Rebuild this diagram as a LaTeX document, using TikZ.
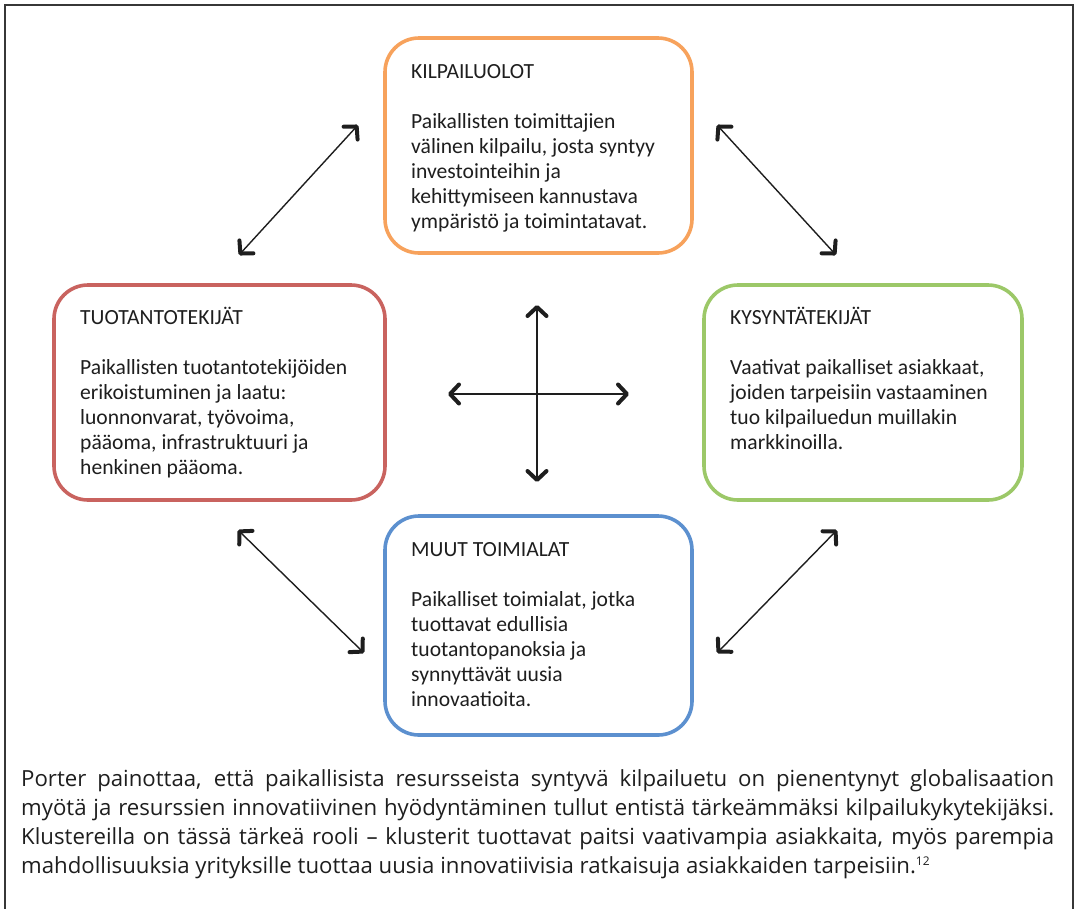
\documentclass[tikz,border=0pt]{standalone}
\usepackage{fontspec}
\setmainfont{Carlito}
\newfontfamily\parafont{Open Sans}
\usetikzlibrary{arrows.meta}
\definecolor{boxorange}{RGB}{247,162,92}
\definecolor{boxred}{RGB}{201,99,95}
\definecolor{boxgreen}{RGB}{156,200,104}
\definecolor{boxblue}{RGB}{92,144,207}
\definecolor{textdark}{RGB}{30,30,30}
\definecolor{framegray}{RGB}{55,55,55}
\tikzset{
  pbox/.style={draw, line width=3.6pt, rounded corners=34pt},
  ptext/.style={anchor=base west, inner sep=0pt, text=textdark, font=\fontsize{21.6}{25}\selectfont},
  barb/.tip={Straight Barb[length=9pt, width=19pt, line width=4pt, round]},
  dbl/.style={line width=1.4pt, draw=textdark, barb-barb},
}
\begin{document}
\begin{tikzpicture}[x=1pt, y=-1pt]
\useasboundingbox (0,0) rectangle (1078,908);
% outer frame (bottom edge runs off the page)
\draw[framegray, line width=2pt] (5,920) -- (5,5) -- (1073,5) -- (1073,920);

% boxes
\draw[pbox, boxorange] (385,38) rectangle (692,253);
\draw[pbox, boxred] (54,285) rectangle (385,500);
\draw[pbox, boxgreen] (704,285) rectangle (1022,500);
\draw[pbox, boxblue] (385,516) rectangle (692,735);

\node[ptext] (kilp) at (411,78) {\parbox[t]{280pt}{\raggedright KILPAILUOLOT\\[25pt]Paikallisten toimittajien\\välinen kilpailu, josta syntyy\\investointeihin ja\\kehittymiseen kannustava\\ympäristö ja toimintatavat.}};
\node[ptext] (tuot) at (80,324) {\parbox[t]{300pt}{\raggedright TUOTANTOTEKIJÄT\\[25pt]Paikallisten tuotantotekijöiden\\erikoistuminen ja laatu:\\luonnonvarat, työvoima,\\pääoma, infrastruktuuri ja\\henkinen pääoma.}};
\node[ptext] (kysy) at (730,324) {\parbox[t]{285pt}{\raggedright KYSYNTÄTEKIJÄT\\[25pt]Vaativat paikalliset asiakkaat,\\joiden tarpeisiin vastaaminen\\tuo kilpailuedun muillakin\\markkinoilla.}};
\node[ptext] (muut) at (411,556) {\parbox[t]{280pt}{\raggedright MUUT TOIMIALAT\\[25pt]Paikalliset toimialat, jotka\\tuottavat edullisia\\tuotantopanoksia ja\\synnyttävät uusia\\innovaatioita.}};

% diagonal arrows
\coordinate (tlA) at (239,255); \coordinate (tlB) at (358,125);
\coordinate (trA) at (717,125); \coordinate (trB) at (836,255);
\coordinate (blA) at (238,530); \coordinate (blB) at (364,653);
\coordinate (brA) at (837,530); \coordinate (brB) at (717,653);
\draw[dbl] (tlA) -- (tlB);
\draw[dbl] (trA) -- (trB);
\draw[dbl] (blA) -- (blB);
\draw[dbl] (brA) -- (brB);

% centre cross
\coordinate (cT) at (537,305); \coordinate (cB) at (537,482);
\coordinate (cL) at (448,394); \coordinate (cR) at (629,394);
\coordinate (mL) at (512,394); \coordinate (mR) at (563,394);
\draw[dbl] (cT) -- (cB);
\draw[dbl] (cL) -- (cR);
\draw[textdark, line width=2.6pt] (mL) -- (mR);

% caption
\node[anchor=base west, inner sep=0pt, text=textdark] (cap) at (21,786) {\parbox[t]{1033pt}{\parafont\fontsize{22.2}{29}\selectfont Porter painottaa, että paikallisista resursseista syntyvä kilpailuetu on pienentynyt globalisaation\linebreak myötä ja resurssien innovatiivinen hyödyntäminen tullut entistä tärkeämmäksi kilpailukykytekijäksi.\linebreak Klustereilla on tässä tärkeä rooli – klusterit tuottavat paitsi vaativampia asiakkaita, myös parempia\linebreak mahdollisuuksia yrityksille tuottaa uusia innovatiivisia ratkaisuja asiakkaiden tarpeisiin.\textsuperscript{\fontsize{12}{12}\selectfont 12}}};
\end{tikzpicture}
\end{document}
